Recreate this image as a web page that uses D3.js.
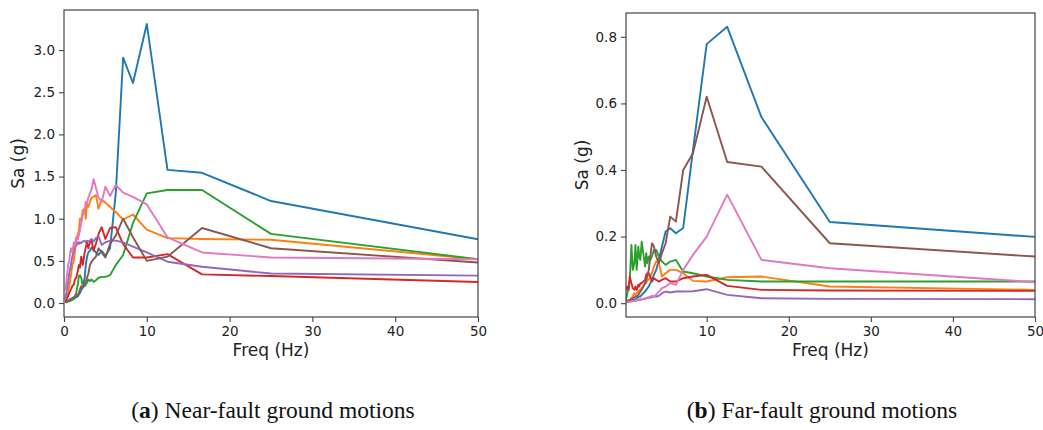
<!DOCTYPE html>
<html>
<head>
<meta charset="utf-8">
<script src="https://cdn.jsdelivr.net/npm/d3@7"></script>
<style>
  html, body { margin: 0; padding: 0; background: #fff; }
  svg { display: block; }
  .tick text { font-family: "DejaVu Sans", sans-serif; font-size: 13.5px; fill: #222; }
  .axlabel { font-family: "DejaVu Sans", sans-serif; font-size: 17px; fill: #222; }
  .caption { font-family: "Liberation Serif", "DejaVu Serif", serif; font-size: 23.5px; fill: #111; }
</style>
</head>
<body>
<svg id="chart" width="1043" height="430"></svg>
<script>
// Frequencies (Hz) shared by all records
const freqs = [50, 25, 16.67, 12.5, 10, 8.33, 7.14, 6.25, 5.56, 5.0, 4.55, 4.17, 3.85, 3.57, 3.33, 3.13, 2.94, 2.78, 2.63, 2.5, 2.27, 2.08, 1.92, 1.79, 1.67, 1.47, 1.32, 1.19, 1.0, 0.83, 0.63, 0.5, 0.33, 0.17];

// (a) Near-fault ground motions, Sa (g)
const near1 = [0.757, 1.21, 1.545, 1.58, 3.31, 2.61, 2.91, 1.3, 0.65, 0.56, 0.62, 0.57, 0.6, 0.63, 0.66, 0.62, 0.6, 0.55, 0.45, 0.3, 0.2, 0.15, 0.12, 0.1, 0.08, 0.07, 0.06, 0.05, 0.04, 0.03, 0.03, 0.02, 0.02, 0.01];
const near2 = [0.52, 0.75, 0.76, 0.77, 0.87, 1.05, 0.99, 1.08, 1.14, 1.19, 1.23, 1.12, 1.28, 1.26, 1.25, 1.2, 1.14, 1.18, 1.0, 1.12, 1.1, 0.98, 1.0, 0.85, 0.82, 0.75, 0.62, 0.5, 0.45, 0.32, 0.2, 0.12, 0.06, 0.02];
const near3 = [0.52, 0.82, 1.34, 1.34, 1.30, 0.95, 0.57, 0.45, 0.33, 0.31, 0.31, 0.3, 0.27, 0.25, 0.28, 0.26, 0.28, 0.24, 0.22, 0.2, 0.2, 0.3, 0.33, 0.32, 0.22, 0.12, 0.08, 0.05, 0.04, 0.03, 0.02, 0.02, 0.01, 0.01];
const near4 = [0.25, 0.32, 0.34, 0.58, 0.54, 0.54, 0.7, 0.9, 0.89, 0.76, 0.9, 0.82, 0.7, 0.62, 0.74, 0.72, 0.65, 0.72, 0.66, 0.6, 0.45, 0.55, 0.42, 0.45, 0.38, 0.3, 0.28, 0.22, 0.2, 0.16, 0.12, 0.08, 0.05, 0.02];
const near5 = [0.325, 0.35, 0.43, 0.49, 0.6, 0.67, 0.72, 0.74, 0.74, 0.72, 0.69, 0.79, 0.77, 0.73, 0.76, 0.74, 0.73, 0.74, 0.72, 0.74, 0.73, 0.71, 0.72, 0.7, 0.72, 0.68, 0.7, 0.62, 0.55, 0.45, 0.35, 0.25, 0.15, 0.05];
const near6 = [0.48, 0.65, 0.89, 0.55, 0.5, 0.78, 1.0, 0.8, 0.7, 0.54, 0.6, 0.65, 0.55, 0.52, 0.49, 0.45, 0.35, 0.3, 0.25, 0.22, 0.18, 0.2, 0.16, 0.12, 0.1, 0.09, 0.08, 0.07, 0.06, 0.05, 0.04, 0.03, 0.02, 0.01];
const near7 = [0.52, 0.54, 0.6, 0.78, 1.17, 1.26, 1.31, 1.40, 1.27, 1.38, 1.2, 1.25, 1.37, 1.47, 1.35, 1.3, 1.25, 1.18, 1.2, 1.1, 1.05, 0.95, 0.86, 0.8, 0.75, 0.78, 0.68, 0.72, 0.6, 0.65, 0.5, 0.45, 0.3, 0.15];

// (b) Far-fault ground motions, Sa (g)
const far1 = [0.199, 0.244, 0.559, 0.83, 0.778, 0.46, 0.226, 0.21, 0.225, 0.215, 0.17, 0.13, 0.1, 0.085, 0.07, 0.06, 0.05, 0.045, 0.04, 0.035, 0.03, 0.025, 0.02, 0.02, 0.018, 0.015, 0.012, 0.01, 0.01, 0.008, 0.006, 0.005, 0.004, 0.003];
const far2 = [0.04, 0.05, 0.08, 0.078, 0.065, 0.067, 0.09, 0.1, 0.1, 0.09, 0.08, 0.12, 0.125, 0.11, 0.09, 0.08, 0.07, 0.07, 0.06, 0.06, 0.05, 0.045, 0.04, 0.04, 0.035, 0.03, 0.025, 0.03, 0.02, 0.015, 0.01, 0.01, 0.008, 0.005];
const far3 = [0.065, 0.065, 0.065, 0.07, 0.08, 0.09, 0.095, 0.13, 0.125, 0.115, 0.125, 0.14, 0.16, 0.16, 0.14, 0.13, 0.14, 0.12, 0.15, 0.11, 0.15, 0.185, 0.13, 0.14, 0.17, 0.1, 0.175, 0.12, 0.1, 0.175, 0.07, 0.05, 0.03, 0.01];
const far4 = [0.037, 0.038, 0.04, 0.052, 0.085, 0.08, 0.075, 0.065, 0.065, 0.075, 0.07, 0.065, 0.07, 0.075, 0.065, 0.08, 0.09, 0.09, 0.085, 0.07, 0.065, 0.06, 0.06, 0.05, 0.055, 0.04, 0.05, 0.04, 0.045, 0.06, 0.08, 0.04, 0.05, 0.04];
const far5 = [0.012, 0.013, 0.015, 0.025, 0.042, 0.036, 0.035, 0.035, 0.032, 0.035, 0.03, 0.022, 0.02, 0.02, 0.018, 0.017, 0.016, 0.015, 0.014, 0.013, 0.012, 0.011, 0.01, 0.01, 0.009, 0.008, 0.008, 0.007, 0.006, 0.006, 0.005, 0.005, 0.004, 0.004];
const far6 = [0.14, 0.18, 0.41, 0.424, 0.62, 0.45, 0.40, 0.245, 0.26, 0.18, 0.15, 0.12, 0.14, 0.17, 0.18, 0.14, 0.1, 0.08, 0.07, 0.06, 0.05, 0.04, 0.035, 0.03, 0.025, 0.02, 0.02, 0.018, 0.015, 0.012, 0.01, 0.008, 0.006, 0.005];
const far7 = [0.063, 0.105, 0.13, 0.326, 0.2, 0.145, 0.1, 0.055, 0.06, 0.05, 0.045, 0.035, 0.025, 0.02, 0.022, 0.02, 0.018, 0.017, 0.016, 0.015, 0.014, 0.012, 0.012, 0.011, 0.01, 0.009, 0.008, 0.007, 0.006, 0.005, 0.005, 0.004, 0.004, 0.003];

const nearTicksY = [0.0, 0.5, 1.0, 1.5, 2.0, 2.5, 3.0];
const farTicksY = [0.0, 0.2, 0.4, 0.6, 0.8];
const nearTicksX = [0, 10, 20, 30, 40, 50];
const farTicksX = [10, 20, 30, 40, 50];
const colors = ["#1f77b4", "#ff7f0e", "#2ca02c", "#d62728", "#9467bd", "#8c564b", "#e377c2"];

const svg = d3.select("#chart");

function panel(cfg) {
  const x = d3.scaleLinear().domain(cfg.xdom).range([cfg.left, cfg.right]);
  const y = d3.scaleLinear().domain(cfg.ydom).range([cfg.bottom, cfg.top]);
  const g = svg.append("g");
  const clipId = "clip" + cfg.id;
  svg.append("clipPath").attr("id", clipId).append("rect")
    .attr("x", cfg.left).attr("y", cfg.top)
    .attr("width", cfg.right - cfg.left).attr("height", cfg.bottom - cfg.top);

  const line = d3.line().x(d => x(d[0])).y(d => y(d[1]));
  const lg = g.append("g").attr("clip-path", `url(#${clipId})`);
  cfg.series.forEach((s, i) => {
    const pts = freqs.map((f, k) => [f, s[k]]);
    lg.append("path").attr("d", line(pts)).attr("fill", "none")
      .attr("stroke", colors[i]).attr("stroke-width", 1.9)
      .attr("stroke-linejoin", "round");
  });

  // frame
  g.append("rect").attr("x", cfg.left).attr("y", cfg.top)
    .attr("width", cfg.right - cfg.left).attr("height", cfg.bottom - cfg.top)
    .attr("fill", "none").attr("stroke", "#444").attr("stroke-width", 1.2);

  const xa = g.append("g").attr("transform", `translate(0,${cfg.bottom})`)
    .call(d3.axisBottom(x).tickValues(cfg.xticks).tickFormat(d3.format("d")).tickSize(5).tickPadding(4));
  const ya = g.append("g").attr("transform", `translate(${cfg.left},0)`)
    .call(d3.axisLeft(y).tickValues(cfg.yticks).tickFormat(d3.format(".1f")).tickSize(5).tickPadding(4));
  [xa, ya].forEach(a => {
    a.select(".domain").remove();
    a.selectAll(".tick line").attr("stroke", "#444").attr("stroke-width", 1.1);
  });

  g.append("text").attr("class", "axlabel").attr("text-anchor", "middle")
    .attr("x", (cfg.left + cfg.right) / 2).attr("y", 356).text("Freq (Hz)");
  g.append("text").attr("class", "axlabel").attr("text-anchor", "middle")
    .attr("transform", `translate(${cfg.ylabelX},${(cfg.top + cfg.bottom) / 2}) rotate(-90)`)
    .text("Sa (g)");

  const cap = g.append("text").attr("class", "caption").attr("text-anchor", "middle")
    .attr("x", cfg.capX).attr("y", 418);
  cap.append("tspan").text("(");
  cap.append("tspan").attr("font-weight", "bold").text(cfg.capLetter);
  cap.append("tspan").text(") " + cfg.capText);
}

panel({
  id: "a", left: 64, right: 478, top: 10, bottom: 317,
  xdom: [0, 50], ydom: [-0.1655, 3.4755],
  xticks: nearTicksX, yticks: nearTicksY,
  series: [near1, near2, near3, near4, near5, near6, near7],
  ylabelX: 24, capX: 273, capLetter: "a", capText: "Near-fault ground motions"
});

panel({
  id: "b", left: 626, right: 1035, top: 13, bottom: 317,
  xdom: [0.17, 50], ydom: [-0.0415, 0.8715],
  xticks: farTicksX, yticks: farTicksY,
  series: [far1, far2, far3, far4, far5, far6, far7],
  ylabelX: 588, capX: 822, capLetter: "b", capText: "Far-fault ground motions"
});
</script>
</body>
</html>
